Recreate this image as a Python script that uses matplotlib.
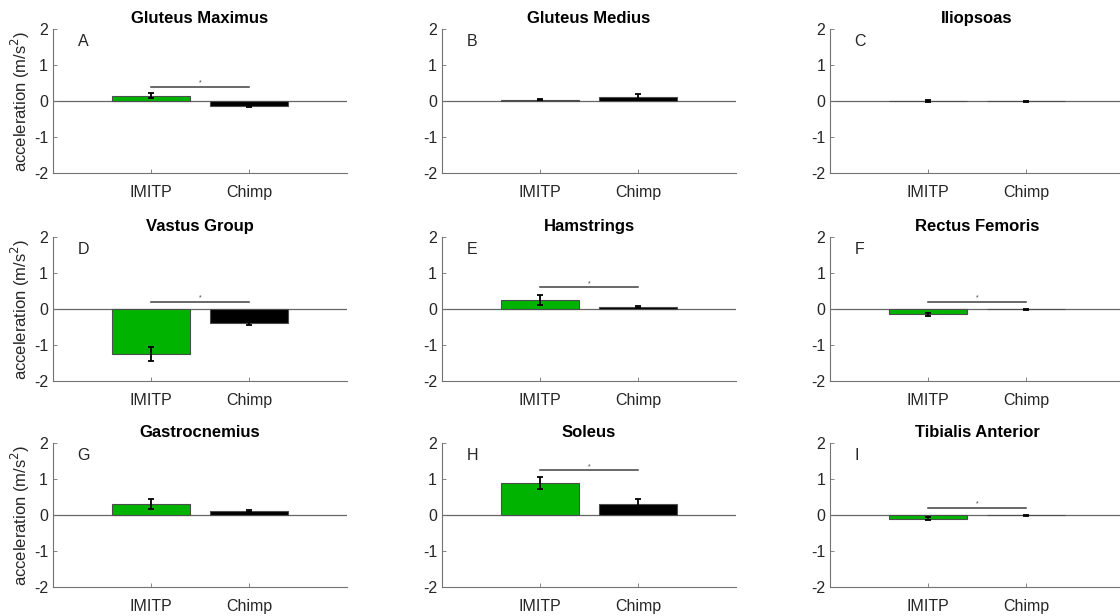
import numpy as np
import matplotlib.pyplot as plt

plt.rcParams['font.family'] = ['Liberation Sans', 'DejaVu Sans']
plt.rcParams['axes.unicode_minus'] = False

# muscle groups, one panel each
muscles = ['Gluteus Maximus', 'Gluteus Medius', 'Iliopsoas',
           'Vastus Group', 'Hamstrings', 'Rectus Femoris',
           'Gastrocnemius', 'Soleus', 'Tibialis Anterior']
letters = ['A', 'B', 'C', 'D', 'E', 'F', 'G', 'H', 'I']
groups = ['IMITP', 'Chimp']

# mean acceleration (m/s^2) and standard error
imitp_mean = [0.14, 0.04, -0.005, -1.25, 0.26, -0.15, 0.30, 0.89, -0.10]
imitp_err = [0.07, 0.02, 0.02, 0.20, 0.14, 0.05, 0.14, 0.17, 0.05]
chimp_mean = [-0.15, 0.12, -0.01, -0.38, 0.05, -0.01, 0.12, 0.31, -0.01]
chimp_err = [0.03, 0.08, 0.01, 0.06, 0.03, 0.01, 0.03, 0.14, 0.01]

# height of significance bar (None = not significant)
sig_y = [0.4, None, None, 0.2, 0.6, 0.2, None, 1.25, 0.2]

green = '#00b300'
axcol = '#262626'

fig = plt.figure(figsize=(11.2, 6.16), dpi=100)
lefts = [0.0473, 0.3946, 0.7411]
bottoms = [0.7192, 0.3815, 0.0471]
w, h = 0.2625, 0.2338

for k in range(9):
    r, c = divmod(k, 3)
    ax = fig.add_axes([lefts[c], bottoms[r], w, h])
    x = np.array([1, 2])
    means = [imitp_mean[k], chimp_mean[k]]
    errs = [imitp_err[k], chimp_err[k]]
    ax.axhline(0, color='0.4', lw=0.9, zorder=1)
    ax.bar(x, means, width=0.8, color=[green, 'black'],
           edgecolor='0.3', linewidth=0.8, zorder=2)
    ax.errorbar(x, means, yerr=errs, fmt='none', ecolor='black',
                elinewidth=1.3, capsize=2.5, capthick=1.3, zorder=3)
    if sig_y[k] is not None:
        ax.plot([1, 2], [sig_y[k], sig_y[k]], color='0.25', lw=1.1, zorder=3)
        ax.text(1.5, sig_y[k], '*', ha='center', va='bottom', fontsize=5,
                color='0.25')
    ax.text(0.25, 1.64, letters[k], fontsize=11.5, color=axcol,
            ha='left', va='center')
    ax.set_xlim(0, 3)
    ax.set_ylim(-2, 2)
    ax.set_xticks(x)
    ax.set_xticklabels(groups)
    ax.set_yticks([-2, -1, 0, 1, 2])
    ax.set_title(muscles[k], fontsize=12, fontweight='bold', pad=4)
    for s in ['top', 'right']:
        ax.spines[s].set_visible(False)
    for s in ['left', 'bottom']:
        ax.spines[s].set_color('0.45')
        ax.spines[s].set_linewidth(0.8)
    ax.tick_params(direction='in', length=3, width=0.6, color='0.45',
                   labelsize=11.5, labelcolor=axcol)
    ax.tick_params(axis='x', pad=9)
    if c == 0:
        ax.set_ylabel('acceleration (m/s$^2$)', fontsize=12, color=axcol,
                      labelpad=1)

plt.savefig('out.png', dpi=100)
